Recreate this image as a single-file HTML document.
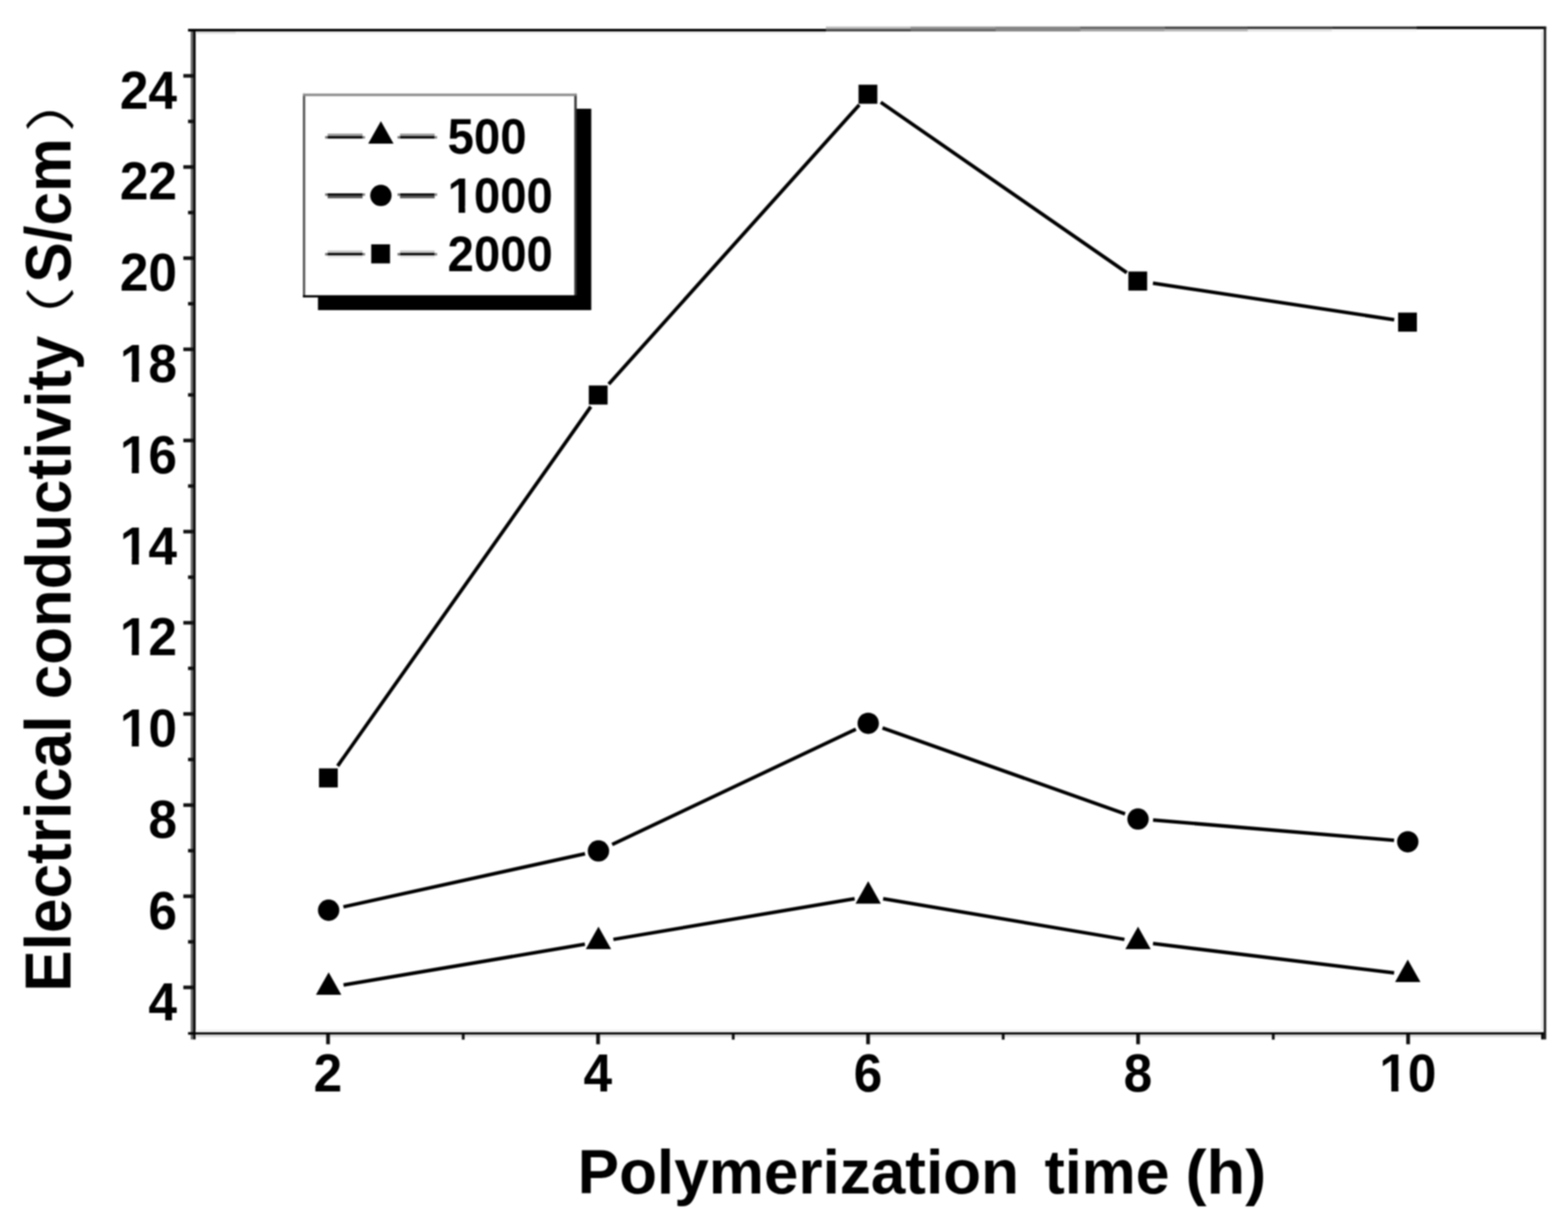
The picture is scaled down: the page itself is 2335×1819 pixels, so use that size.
<!DOCTYPE html>
<html lang="en">
<head>
<meta charset="utf-8">
<title>Electrical conductivity vs polymerization time</title>
<style>
html,body{margin:0;padding:0;background:#fff;}
body{width:2335px;height:1819px;overflow:hidden;}
svg{display:block;}
text{font-family:"Liberation Sans","Noto Sans CJK SC",sans-serif;font-weight:bold;font-size:100px;fill:#000;font-kerning:none;}
text.paren{font-family:"Liberation Sans","Noto Sans CJK SC",sans-serif;font-weight:350;}
</style>
</head>
<body>
<svg width="2335" height="1819" viewBox="0 0 2335 1819">
<defs><filter id="soft" x="0" y="0" width="2335" height="1819" filterUnits="userSpaceOnUse" color-interpolation-filters="sRGB"><feGaussianBlur stdDeviation="0.8"/></filter></defs>
<rect x="0" y="0" width="2335" height="1819" fill="#fff"/>
<g id="chart" filter="url(#soft)">
<rect x="-20" y="-20" width="2375" height="1859" fill="#fff"/>

<g id="frame">
<rect x="284" y="43" width="3.7" height="1505.5" fill="#666"/>
<rect x="287.7" y="43" width="3.6" height="1505.5" fill="#000"/>
<rect x="280" y="43.0" width="950" height="4.0" fill="#000"/>
<rect x="1229.8" y="39.6" width="126.5" height="3.6" fill="#b8b8b8"/>
<rect x="1229.8" y="43.2" width="126.5" height="3.6" fill="#404040"/>
<rect x="1356.0" y="39.6" width="127.0" height="3.6" fill="#909090"/>
<rect x="1356.0" y="43.2" width="127.0" height="3.6" fill="#606060"/>
<rect x="1482.7" y="39.6" width="126.3" height="3.6" fill="#808080"/>
<rect x="1482.7" y="43.2" width="126.3" height="3.6" fill="#808080"/>
<rect x="1608.7" y="39.6" width="125.9" height="3.6" fill="#606060"/>
<rect x="1608.7" y="43.2" width="125.9" height="3.6" fill="#a0a0a0"/>
<rect x="1734.3" y="39.6" width="124.0" height="3.6" fill="#404040"/>
<rect x="1734.3" y="43.2" width="124.0" height="3.6" fill="#b4b4b4"/>
<rect x="1858.0" y="39.6" width="125.7" height="3.6" fill="#303030"/>
<rect x="1858.0" y="43.2" width="125.7" height="3.6" fill="#e0e0e0"/>
<rect x="1983.4" y="39.6" width="126.2" height="3.6" fill="#202020"/>
<rect x="1983.4" y="43.2" width="126.2" height="3.6" fill="#f4f4f4"/>
<rect x="2109.3" y="39.4" width="193.2" height="3.9" fill="#000"/>
<rect x="2298.8" y="39.8" width="3.7" height="1508.7" fill="#1a1a1a"/>
<rect x="280" y="1537.7" width="2019" height="3.7" fill="#000"/>
<rect x="291.3" y="1541.3" width="2004" height="3.7" fill="#dadada"/>
<rect x="291.3" y="1534.2" width="2004" height="3.6" fill="#efefef"/>
<rect x="2295.1" y="47" width="3.7" height="1487" fill="#e8e8e8"/>
<rect x="291.3" y="46.8" width="60" height="3.6" fill="#dedede"/>
<rect x="351.3" y="46.8" width="878" height="3.6" fill="#f2f2f2"/>
</g>
<g id="ticks" fill="#000">
<rect x="273" y="1468.3" width="14.8" height="5.4" fill="#111"/>
<rect x="273" y="1332.5" width="14.8" height="5.4" fill="#111"/>
<rect x="273" y="1196.7" width="14.8" height="5.4" fill="#111"/>
<rect x="273" y="1060.9" width="14.8" height="5.4" fill="#111"/>
<rect x="273" y="925.1" width="14.8" height="5.4" fill="#111"/>
<rect x="273" y="789.3" width="14.8" height="5.4" fill="#111"/>
<rect x="273" y="653.5" width="14.8" height="5.4" fill="#111"/>
<rect x="273" y="517.7" width="14.8" height="5.4" fill="#111"/>
<rect x="273" y="381.9" width="14.8" height="5.4" fill="#111"/>
<rect x="273" y="246.1" width="14.8" height="5.4" fill="#111"/>
<rect x="273" y="110.3" width="14.8" height="5.4" fill="#111"/>
<rect x="280" y="1400.5" width="7.8" height="5.2" fill="#111"/>
<rect x="280" y="1264.7" width="7.8" height="5.2" fill="#111"/>
<rect x="280" y="1128.9" width="7.8" height="5.2" fill="#111"/>
<rect x="280" y="993.1" width="7.8" height="5.2" fill="#111"/>
<rect x="280" y="857.3" width="7.8" height="5.2" fill="#111"/>
<rect x="280" y="721.5" width="7.8" height="5.2" fill="#111"/>
<rect x="280" y="585.7" width="7.8" height="5.2" fill="#111"/>
<rect x="280" y="449.9" width="7.8" height="5.2" fill="#111"/>
<rect x="280" y="314.1" width="7.8" height="5.2" fill="#111"/>
<rect x="280" y="178.3" width="7.8" height="5.2" fill="#111"/>
<rect x="485.7" y="1541" width="5.6" height="14.7" fill="#111"/>
<rect x="887.8" y="1541" width="5.6" height="14.7" fill="#111"/>
<rect x="1289.9" y="1541" width="5.6" height="14.7" fill="#111"/>
<rect x="1692.0" y="1541" width="5.6" height="14.7" fill="#111"/>
<rect x="2094.1" y="1541" width="5.6" height="14.7" fill="#111"/>
<rect x="687.7" y="1541" width="4.2" height="7.8" fill="#111"/>
<rect x="1089.8" y="1541" width="4.2" height="7.8" fill="#111"/>
<rect x="1491.8" y="1541" width="4.2" height="7.8" fill="#111"/>
<rect x="1894.0" y="1541" width="4.2" height="7.8" fill="#111"/>
<rect x="2295.1" y="1541" width="3.7" height="7.5" fill="#000"/>
</g>
<g id="ylabels">
<text text-anchor="end" transform="translate(263.5,1519.6) scale(0.7650,0.8000)">4</text>
<text text-anchor="end" transform="translate(263.5,1383.8) scale(0.7650,0.8000)">6</text>
<text text-anchor="end" transform="translate(263.5,1248.0) scale(0.7650,0.8000)">8</text>
<g transform="translate(263.5,1112.2) scale(0.7650,0.8000)"><text x="-111.23" y="0">10</text><rect x="-106.93" y="-13" width="19.04" height="15" fill="#fff"/><rect x="-74.17" y="-13" width="17.74" height="15" fill="#fff"/></g>
<g transform="translate(263.5,976.4) scale(0.7650,0.8000)"><text x="-111.23" y="0">12</text><rect x="-106.93" y="-13" width="19.04" height="15" fill="#fff"/><rect x="-74.17" y="-13" width="17.74" height="15" fill="#fff"/></g>
<g transform="translate(263.5,840.6) scale(0.7650,0.8000)"><text x="-111.23" y="0">14</text><rect x="-106.93" y="-13" width="19.04" height="15" fill="#fff"/><rect x="-74.17" y="-13" width="17.74" height="15" fill="#fff"/></g>
<g transform="translate(263.5,704.8) scale(0.7650,0.8000)"><text x="-111.23" y="0">16</text><rect x="-106.93" y="-13" width="19.04" height="15" fill="#fff"/><rect x="-74.17" y="-13" width="17.74" height="15" fill="#fff"/></g>
<g transform="translate(263.5,569.0) scale(0.7650,0.8000)"><text x="-111.23" y="0">18</text><rect x="-106.93" y="-13" width="19.04" height="15" fill="#fff"/><rect x="-74.17" y="-13" width="17.74" height="15" fill="#fff"/></g>
<text text-anchor="end" transform="translate(263.5,433.2) scale(0.7650,0.8000)">20</text>
<text text-anchor="end" transform="translate(263.5,297.4) scale(0.7650,0.8000)">22</text>
<text text-anchor="end" transform="translate(263.5,161.6) scale(0.7650,0.8000)">24</text>
</g>
<g id="xlabels">
<text text-anchor="middle" transform="translate(488.2,1626.0) scale(0.7650,0.8000)">2</text>
<text text-anchor="middle" transform="translate(890.3,1626.0) scale(0.7650,0.8000)">4</text>
<text text-anchor="middle" transform="translate(1292.4,1626.0) scale(0.7650,0.8000)">6</text>
<text text-anchor="middle" transform="translate(1694.5,1626.0) scale(0.7650,0.8000)">8</text>
<g transform="translate(2096.6,1626.0) scale(0.7650,0.8000)"><text x="-55.62" y="0">10</text><rect x="-51.32" y="-13" width="19.04" height="15" fill="#fff"/><rect x="-18.56" y="-13" width="17.74" height="15" fill="#fff"/></g>
</g>
<g id="lines" stroke="#000" stroke-width="5.3" fill="none" stroke-linecap="butt">
<line x1="502.8" y1="1141.1" x2="879.8" y2="605.9"/>
<line x1="906.5" y1="572.3" x2="1279.6" y2="156.2"/>
<line x1="1311.6" y1="152.4" x2="1678.0" y2="406.3"/>
<line x1="1716.9" y1="421.8" x2="2076.2" y2="476.4"/>
<line x1="511.4" y1="1351.0" x2="871.2" y2="1271.9"/>
<line x1="911.6" y1="1258.1" x2="1274.5" y2="1086.4"/>
<line x1="1314.2" y1="1084.4" x2="1675.4" y2="1212.6"/>
<line x1="1717.1" y1="1221.6" x2="2076.0" y2="1251.9"/>
<line x1="511.6" y1="1467.4" x2="871.0" y2="1406.7"/>
<line x1="913.4" y1="1399.5" x2="1272.7" y2="1338.8"/>
<line x1="1315.1" y1="1338.8" x2="1674.5" y2="1399.5"/>
<line x1="1717.0" y1="1405.7" x2="2076.1" y2="1449.4"/>
</g>
<g id="markers" fill="#000">
<rect x="475.0" y="1144.7" width="28.0" height="28.4"/>
<rect x="876.8" y="574.3" width="28.0" height="28.4"/>
<rect x="1278.5" y="126.2" width="28.0" height="28.4"/>
<rect x="1680.3" y="404.5" width="28.0" height="28.4"/>
<rect x="2082.0" y="465.7" width="28.0" height="28.4"/>
<circle cx="489.4" cy="1356.0" r="15.9"/>
<circle cx="891.2" cy="1267.7" r="15.9"/>
<circle cx="1292.9" cy="1077.6" r="15.9"/>
<circle cx="1694.7" cy="1220.2" r="15.9"/>
<circle cx="2096.4" cy="1254.1" r="15.9"/>
<polygon points="489.4,1448.5 470.5,1482.0 508.3,1482.0"/>
<polygon points="891.2,1380.6 872.3,1414.1 910.1,1414.1"/>
<polygon points="1292.9,1312.7 1274.0,1346.2 1311.8,1346.2"/>
<polygon points="1694.7,1380.6 1675.8,1414.1 1713.6,1414.1"/>
<polygon points="2096.4,1429.5 2077.5,1463.0 2115.3,1463.0"/>
</g>
<g id="legend">
<rect x="473.5" y="162" width="407" height="300" fill="#000"/>
<rect x="451" y="139.8" width="407.6" height="303.3" fill="#000"/>
<rect x="451" y="139.8" width="3.4" height="300" fill="#555"/>
<rect x="855.2" y="139.8" width="3.4" height="300" fill="#3c3c3c"/>
<rect x="451" y="139.8" width="407.6" height="3.3" fill="#8c8c8c"/>
<rect x="454.4" y="143.1" width="400.8" height="296.7" fill="#fff"/>
<rect x="487.9" y="199.1" width="52.0" height="3.7" fill="#999"/>
<rect x="487.9" y="202.8" width="52.0" height="3.6" fill="#000"/>
<rect x="484.2" y="202.8" width="3.7" height="3.6" fill="#707070"/>
<rect x="539.9" y="202.8" width="3.7" height="3.6" fill="#808080"/>
<rect x="595.7" y="199.1" width="51.6" height="3.7" fill="#999"/>
<rect x="595.7" y="202.8" width="51.6" height="3.6" fill="#000"/>
<rect x="592.0" y="202.8" width="3.7" height="3.6" fill="#707070"/>
<rect x="647.3" y="202.8" width="3.7" height="3.6" fill="#808080"/>
<g fill="#000"><polygon points="567.2,180.5 548.3,214.0 586.1,214.0"/></g>
<text transform="translate(666.5,228.8) scale(0.7050,0.7400)">500</text>
<rect x="487.9" y="288.1" width="52.0" height="3.6" fill="#000"/>
<rect x="487.9" y="291.7" width="52.0" height="3.7" fill="#555"/>
<rect x="484.2" y="288.1" width="3.7" height="3.6" fill="#707070"/>
<rect x="539.9" y="288.1" width="3.7" height="3.6" fill="#808080"/>
<rect x="595.7" y="288.1" width="51.6" height="3.6" fill="#000"/>
<rect x="595.7" y="291.7" width="51.6" height="3.7" fill="#555"/>
<rect x="592.0" y="288.1" width="3.7" height="3.6" fill="#707070"/>
<rect x="647.3" y="288.1" width="3.7" height="3.6" fill="#808080"/>
<g fill="#000"><circle cx="567.2" cy="291.2" r="15.9"/></g>
<g transform="translate(666.5,316.6) scale(0.7050,0.7400)"><text x="0.00" y="0">1000</text><rect x="4.30" y="-13" width="19.04" height="15" fill="#fff"/><rect x="37.06" y="-13" width="17.74" height="15" fill="#fff"/></g>
<rect x="487.9" y="373.2" width="52.0" height="3.7" fill="#c4c4c4"/>
<rect x="487.9" y="376.9" width="52.0" height="3.7" fill="#000"/>
<rect x="487.9" y="380.6" width="52.0" height="3.7" fill="#e8e8e8"/>
<rect x="484.2" y="376.9" width="3.7" height="3.7" fill="#707070"/>
<rect x="539.9" y="376.9" width="3.7" height="3.7" fill="#808080"/>
<rect x="595.7" y="373.2" width="51.6" height="3.7" fill="#c4c4c4"/>
<rect x="595.7" y="376.9" width="51.6" height="3.7" fill="#000"/>
<rect x="595.7" y="380.6" width="51.6" height="3.7" fill="#e8e8e8"/>
<rect x="592.0" y="376.9" width="3.7" height="3.7" fill="#707070"/>
<rect x="647.3" y="376.9" width="3.7" height="3.7" fill="#808080"/>
<g fill="#000"><rect x="552.8" y="364.0" width="28.0" height="28.4"/></g>
<text transform="translate(666.5,403.8) scale(0.7050,0.7400)">2000</text>
</g>
<g id="xtitle">
<text transform="translate(860.3,1778.3) scale(0.9240,0.9350)">Polymerization</text>
<text transform="translate(1555.5,1778.3) scale(0.9050,0.9350)">time</text>
<text transform="translate(1765.5,1778.3) scale(0.9400,0.9350)">(h)</text>
</g>
<g id="ytitle">
<text transform="translate(104.6,1477.5) rotate(-90) scale(0.9255,0.9550)">Electrical</text>
<text transform="translate(104.6,1041.4) rotate(-90) scale(0.9190,0.9550)">conductivity</text>
<text class="paren" transform="translate(102.0,531.9) rotate(-90) scale(1.0500,0.7430)">（</text>
<text transform="translate(104.6,421.0) rotate(-90) scale(0.9000,0.9550)">S/cm</text>
<text class="paren" transform="translate(102.0,196.9) rotate(-90) scale(1.0500,0.7430)">）</text>
</g>
</g>
</svg>
</body>
</html>
